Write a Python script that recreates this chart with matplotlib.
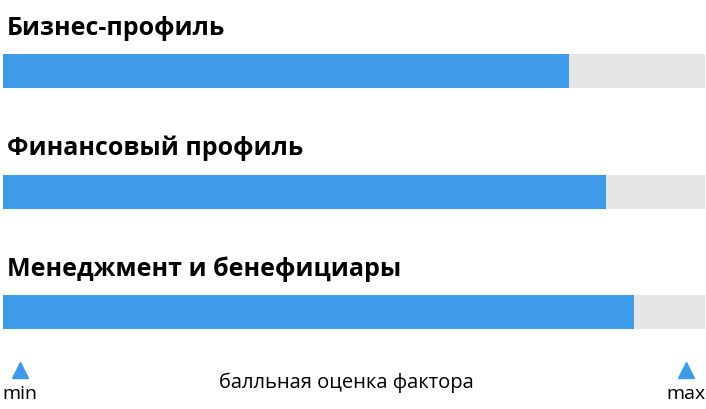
import matplotlib.pyplot as plt

plt.rcParams['font.family'] = ['Open Sans', 'DejaVu Sans']

factors = ['Бизнес-профиль', 'Финансовый профиль', 'Менеджмент и бенефициары']
scores = [80.6, 85.9, 89.9]
score_max = 100
axis_label = 'балльная оценка фактора'

blue = '#3d9be9'
grey = '#e5e5e5'

fig = plt.figure(figsize=(7.06, 4.10), dpi=100)
ax = fig.add_axes([0, 0, 1, 1])

# x in score units, y in pixels from top
px = score_max / 702
ax.set_xlim(-3 * px, score_max + 1 * px)
ax.set_ylim(410, 0)
ax.axis('off')

bar_y = [72, 193, 313]
title_y = [35, 155, 276]
for name, val, by, ty in zip(factors, scores, bar_y, title_y):
    ax.barh(by, score_max, height=34, left=0, color=grey)
    ax.barh(by, val, height=34, left=0, color=blue)
    ax.text(4 * px, ty, name, fontsize=18, fontweight='bold',
            ha='left', va='baseline', color='black')

# min / max markers
for xv, lab in [(17 * px, 'min'), (683 * px, 'max')]:
    ax.plot(xv, 371, marker='^', markersize=11, color=blue, linestyle='none')
    ax.text(xv, 399, lab, fontsize=14, ha='center', va='baseline')

ax.text(343 * px, 388, axis_label, fontsize=14.5, ha='center', va='baseline')

fig.savefig('out.png', dpi=100)
